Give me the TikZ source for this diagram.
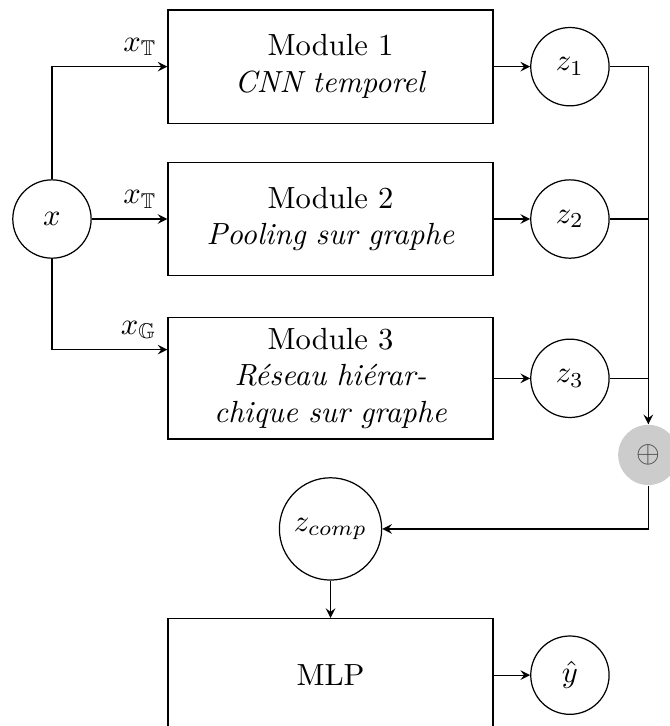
\documentclass[tikz,border=0pt]{standalone}
\usepackage{amsmath}
\usepackage{amssymb}
\usepackage{tikz}

\begin{document}
\begin{tikzpicture}[>=stealth,
    modbox/.style={draw, rectangle, text width=3.5cm, align=center, minimum height=1.3cm},
    var/.style={draw, circle, minimum size=0.9cm},
    sumnode/.style={circle, fill=black!20, text=black!75, minimum size=0.69cm}]
            \useasboundingbox (-0.597,2.516) rectangle (7.099,-5.824);

            % Entree
            \node[var] (x) at (0,0) {$x$};

            % Modules
            \node[modbox] (m1) at (3.2,1.75) {Module 1\\ \textit{CNN temporel}};
            \node[modbox] (m2) at (3.2,0) {Module 2\\ \textit{Pooling sur graphe}};
            \node[modbox] (m3) at (3.2,-1.83) {Module 3\\ \textit{Réseau hiérar-\\chique sur graphe}};

            \draw[->] (x) |- node[above left, pos=1] {$x_{\mathbb{T}}$} (m1);
            \draw[->] (x) -- node[above left, pos=1] {$x_{\mathbb{T}}$} (m2);
            \draw[->] (x) |- node[above left, pos=1] {$x_{\mathbb{G}}$} ([yshift=0.33cm]m3.west);

            % Representations
            \node[var] (z1) at (5.95,1.75) {$z_1$};
            \node[var] (z2) at (5.95,0) {$z_2$};
            \node[var] (z3) at (5.95,-1.83) {$z_3$};
            \draw[->] (m1) -- (z1);
            \draw[->] (m2) -- (z2);
            \draw[->] (m3) -- (z3);

            % Concatenation
            \node[sumnode] (s) at (6.85,-2.71) {$\oplus$};
            \draw[->] (z1) -| (s);
            \draw (z2) -| (s);
            \draw (z3) -| (s);

            \node[var] (zc) at (3.2,-3.56) {$z_{comp}$};
            \draw[->] (s) |- (zc);

            % Sortie
            \node[modbox] (mlp) at (3.2,-5.24) {MLP};
            \node[var] (yh) at (5.95,-5.24) {$\hat{y}$};
            \draw[->] (zc) -- (mlp);
            \draw[->] (mlp) -- (yh);
        \end{tikzpicture}
\end{document}
